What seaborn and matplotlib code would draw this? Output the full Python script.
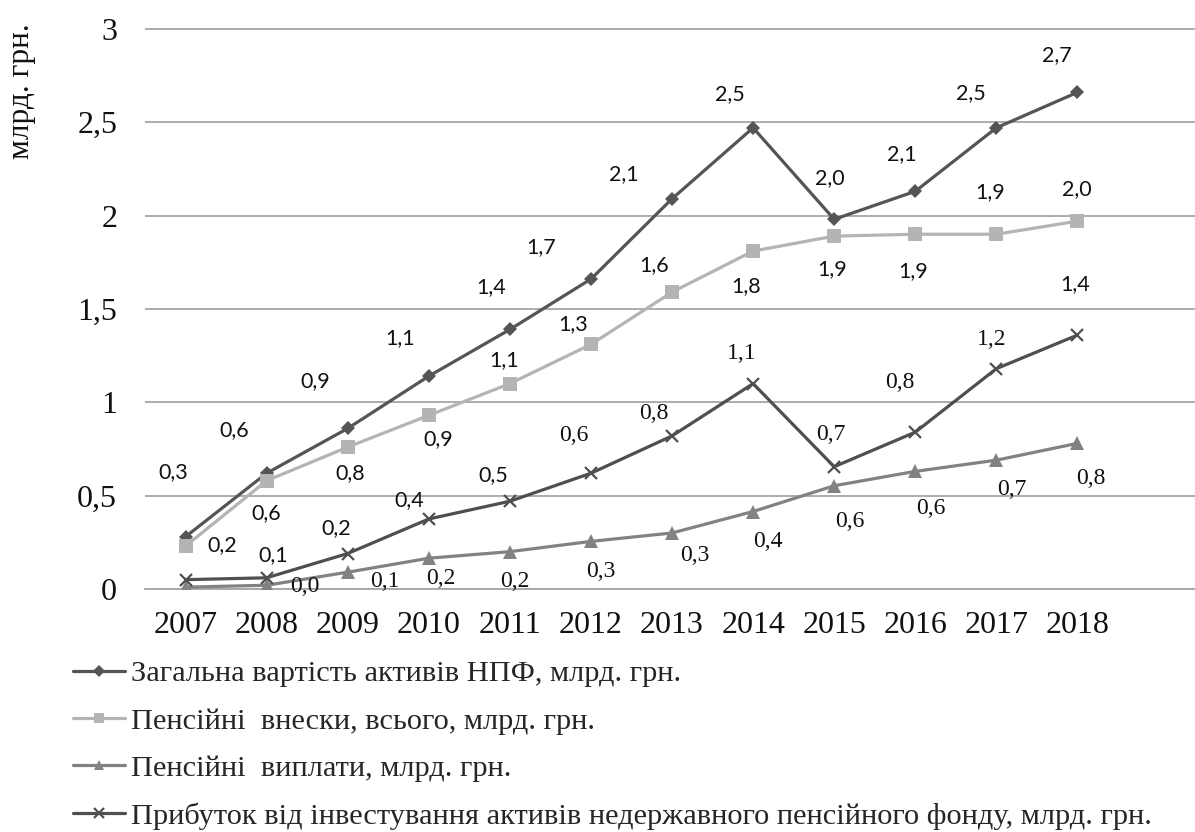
import numpy as np
import pandas as pd
import matplotlib
matplotlib.use("Agg")
import matplotlib.pyplot as plt
import seaborn as sns
from matplotlib.lines import Line2D

# --- data -------------------------------------------------------------
years = ["2007", "2008", "2009", "2010", "2011", "2012",
         "2013", "2014", "2015", "2016", "2017", "2018"]
assets = [0.28, 0.62, 0.86, 1.14, 1.39, 1.66, 2.09, 2.47, 1.98, 2.13, 2.47, 2.66]
contributions = [0.23, 0.58, 0.76, 0.93, 1.10, 1.31, 1.59, 1.81, 1.89, 1.90, 1.90, 1.97]
payouts = [0.01, 0.02, 0.09, 0.165, 0.20, 0.255, 0.30, 0.415, 0.553, 0.63, 0.69, 0.78]
profit = [0.05, 0.06, 0.19, 0.375, 0.47, 0.62, 0.82, 1.10, 0.655, 0.84, 1.18, 1.36]

names = ["Загальна вартість активів НПФ, млрд. грн.",
         "Пенсійні  внески, всього, млрд. грн.",
         "Пенсійні  виплати, млрд. грн.",
         "Прибуток від інвестування активів недержавного пенсійного фонду, млрд. грн."]
y_label = "млрд. грн."
y_ticks = [0, 0.5, 1, 1.5, 2, 2.5, 3]
y_tick_labels = ["0", "0,5", "1", "1,5", "2", "2,5", "3"]

# --- styling ----------------------------------------------------------
sns.set_style("white")
SERIF = ["Liberation Serif", "DejaVu Serif"]
SANS = ["Lato", "DejaVu Sans"]
plt.rcParams["font.family"] = SERIF

GRID = "#a6a6a6"
styles = [
    dict(color="#555555", marker="D", ms=7.5, mew=0),
    dict(color="#b4b4b4", marker="s", ms=9.5, mew=0),
    dict(color="#828282", marker="^", ms=10, mew=0),
    dict(color="#4f4f4f", marker="x", ms=9, mew=1.6),
]

# label offsets (pixels right / down from the point) and fonts
offsets = [
    [(-12, -65), (-32, -43), (-32, -47), (-29, -38), (-19, -42), (-50, -32),
     (-48, -25), (-23, -34), (-4, -41), (-13, -37), (-25, -35), (-21, -37)],
    [(37, -1), (0, 32), (2, 26), (9, 24), (-6, -24), (-18, -20),
     (-18, -27), (-7, 35), (-2, 33), (-2, 37), (-6, -42), (-1, -32)],
    [None, (38, 1), (37, 9), (12, 20), (5, 30), (10, 30),
     (23, 23), (15, 30), (16, 36), (16, 37), (15, 29), (13, 35)],
    [None, (7, -23), (-12, -25), (-20, -19), (-17, -26), (-17, -38),
     (-18, -22), (-11, -30), (-3, -32), (-15, -50), (-5, -29), (-2, -51)],
]
label_fonts = [
    ["sans"] * 12,
    ["sans"] * 12,
    ["serif"] * 12,
    ["sans"] * 5 + ["serif"] * 6 + ["sans"],
]

series = [assets, contributions, payouts, profit]
x = np.arange(len(years))

fig = plt.figure(figsize=(11.95, 8.32), dpi=100)
ax = fig.add_axes([145 / 1195, 1 - 589 / 832, 1 - 145 / 1195, (589 - 27) / 832])

for vals, st, name in zip(series, styles, names):
    df = pd.DataFrame({"x": x, "v": vals})
    sns.lineplot(data=df, x="x", y="v", ax=ax, color=st["color"], lw=2.3,
                 marker=st["marker"], markersize=st["ms"],
                 markeredgewidth=st["mew"], markeredgecolor=st["color"],
                 label=name, legend=False, zorder=3)

for vals, offs, fonts in zip(series, offsets, label_fonts):
    for i, (v, off, fnt) in enumerate(zip(vals, offs, fonts)):
        if off is None:
            continue
        txt = f"{v:.1f}".replace(".", ",")
        dx, dy = off
        if fnt == "sans":
            ax.annotate(txt, (x[i], v), xytext=(dx, -dy), textcoords="offset pixels",
                        ha="center", va="center", fontsize=15.5,
                        family=SANS, color="#111111")
        else:
            ax.annotate(txt, (x[i], v), xytext=(dx, -dy), textcoords="offset pixels",
                        ha="center", va="center", fontsize=17,
                        family=SERIF, color="#111111")

ax.set_xlim(-0.5, 12.45)
ax.set_ylim(0, 3.01)
ax.set_yticks(y_ticks)
ax.set_yticklabels(y_tick_labels)
ax.set_xticks(x)
ax.set_xticklabels(years)
ax.set_xticks(np.arange(-0.5, 12, 1), minor=True)
ax.tick_params(axis="y", length=0, pad=20, labelsize=23, labelcolor="#111111")
ax.tick_params(axis="x", which="major", length=0, pad=16, labelsize=23,
               labelcolor="#111111")
ax.tick_params(axis="x", which="minor", length=7, width=1.2, color=GRID)
ax.yaxis.grid(True, color=GRID, lw=1.3)
ax.xaxis.grid(False)
for s in ["left", "right", "top"]:
    ax.spines[s].set_visible(False)
ax.spines["bottom"].set_color(GRID)
ax.spines["bottom"].set_linewidth(1.3)
ax.set_xlabel("")
ax.set_ylabel("")

fig.text(22 / 1195, 1 - 91 / 832, y_label, rotation=90, ha="center",
         va="center", fontsize=22.5, color="#111111")

handles = [Line2D([], [], color=st["color"], lw=2.3, marker=st["marker"],
                  markersize=st["ms"] * 0.75, markeredgewidth=st["mew"])
           for st in styles]
fig.legend(handles, names, loc="upper left",
           bbox_to_anchor=(73 / 1195, 1 - 660 / 832), frameon=False,
           fontsize=21.9, handlelength=1.72, handletextpad=0.2,
           labelspacing=0.66, borderpad=0, borderaxespad=0)

fig.savefig("out.png", dpi=100)
